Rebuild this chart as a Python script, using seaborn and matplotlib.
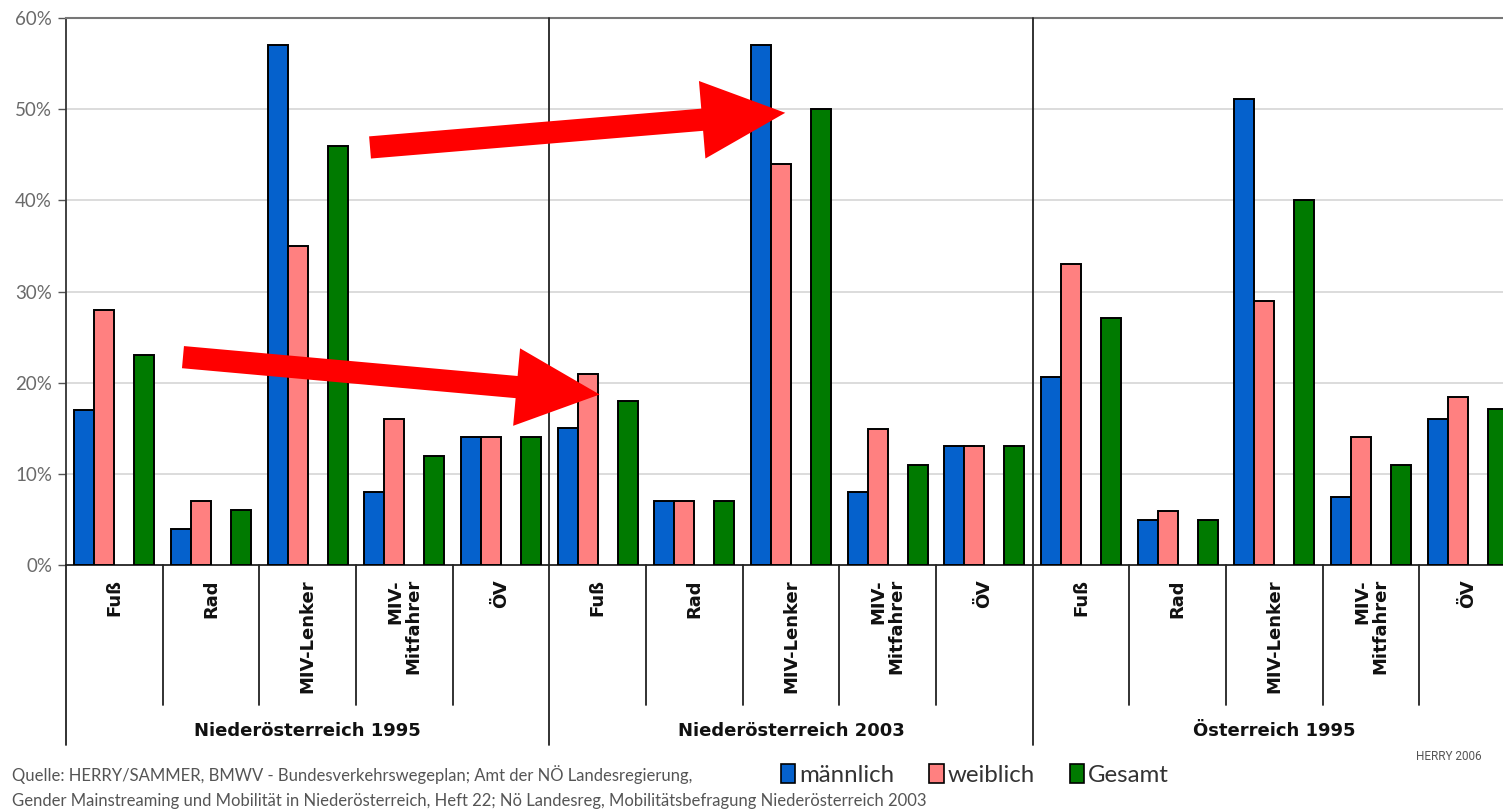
import numpy as np
import pandas as pd
import matplotlib
matplotlib.use("Agg")
import matplotlib.pyplot as plt
import matplotlib.transforms as mtrans
from matplotlib.patches import Patch, FancyArrowPatch
import seaborn as sns

# Daten (Anteil der Wege in %)
regionen = ["Niederösterreich 1995", "Niederösterreich 2003", "Österreich 1995"]
verkehrsmittel = ["Fuß", "Rad", "MIV-Lenker", "MIV-\nMitfahrer", "ÖV"]
maennlich = [17, 4, 57, 8, 14,   15, 7, 57, 8, 13,   20.6, 4.9, 51.1, 7.5, 16]
weiblich = [28, 7, 35, 16, 14,   21, 7, 44, 14.9, 13,   33, 5.9, 29, 14, 18.4]
gesamt = [23, 6, 46, 12, 14,   18, 7, 50, 11, 13,   27.1, 4.9, 40, 11, 17.1]
yticks = [0, 10, 20, 30, 40, 50, 60]

farben = {"männlich": "#0561CC", "weiblich": "#FF8080", " ": "white", "Gesamt": "#007A00"}
hue_order = ["männlich", "weiblich", " ", "Gesamt"]

slots = [f"{r}|{v}" for r in regionen for v in verkehrsmittel]
df = pd.DataFrame({
    "slot": slots * 3,
    "geschlecht": ["männlich"] * 15 + ["weiblich"] * 15 + ["Gesamt"] * 15,
    "anteil": maennlich + weiblich + gesamt,
})

sns.set_style("white")
plt.rcParams["font.family"] = ["DejaVu Sans"]

fig = plt.figure(figsize=(15.03, 8.11), dpi=100)
ax = fig.add_axes([66 / 1503, 1 - 565 / 811, 1 - 66 / 1503, (565 - 18) / 811])

sns.barplot(data=df, x="slot", y="anteil", hue="geschlecht", order=slots,
            hue_order=hue_order, palette=farben, width=0.83, errorbar=None,
            saturation=1, edgecolor="black", linewidth=1.4, legend=False,
            ax=ax, zorder=3)

ax.set_xlim(-0.5, -0.5 + (1503 - 66) / 96.67)
ax.set_ylim(0, 60)
ax.set_yticks(yticks)
ax.set_yticklabels([f"{t}%" for t in yticks], color="#6a6a6a",
                   fontsize=13.5, family="Lato")
ax.set_xticks([])
ax.set_xlabel("")
ax.set_ylabel("")
ax.tick_params(axis="y", length=6, width=1, color="#555555", pad=4, left=True)
for t in yticks[1:-1]:
    ax.axhline(t, color="#d6d6d6", lw=1.2, zorder=1)

ax.spines["right"].set_visible(False)
ax.spines["top"].set_color("#777777")
ax.spines["top"].set_linewidth(1.5)
ax.spines["left"].set_color("#333333")
ax.spines["left"].set_linewidth(1.3)
ax.spines["bottom"].set_color("#222222")
ax.spines["bottom"].set_linewidth(1.3)

# Trennlinien unter der Achse
trans = mtrans.blended_transform_factory(ax.transData, ax.transAxes)
h = 565 - 18
for k in range(len(slots) + 1):
    x = k - 0.5
    if k % 5 == 0:
        y0 = 1.0 if k > 0 else 0.0
        ax.plot([x, x], [y0, -(745 - 565) / h], color="#222222", lw=1.3,
                transform=trans, clip_on=False, zorder=4)
    else:
        ax.plot([x, x], [0, -(705 - 565) / h], color="#222222", lw=1.3,
                transform=trans, clip_on=False, zorder=4)

for i, s in enumerate(slots):
    ax.text(i, -(579 - 565) / h, s.split("|")[1], rotation=90, ha="center",
            va="top", multialignment="right", fontsize=13,
            fontweight="bold", color="#111111", transform=trans,
            linespacing=1.0)

for g, r in enumerate(regionen):
    ax.text(g * 5 + 2, -(731 - 565) / h, r, ha="center", va="center",
            fontsize=13, fontweight="bold", color="#111111", transform=trans)

# rote Pfeile
for tail, tip in [((2.645, 45.8), (6.94, 49.6)), ((0.71, 22.8), (5.02, 18.7))]:
    arr = FancyArrowPatch(tail, tip, arrowstyle="simple,head_length=60,head_width=56,tail_width=16",
                          mutation_scale=1, color="#FF0000", lw=0,
                          shrinkA=0, shrinkB=0, zorder=6)
    ax.add_patch(arr)

# Legende
handles = [Patch(facecolor=farben[k], edgecolor="black", linewidth=1.2)
           for k in ["männlich", "weiblich", "Gesamt"]]
fig.legend(handles, ["männlich", "weiblich", "Gesamt"], loc="center left",
           bbox_to_anchor=(781 / 1503, 1 - 775 / 811), ncol=3, frameon=False,
           handlelength=0.6, handleheight=0.85, handletextpad=0.15,
           columnspacing=1.47, prop={"family": "Lato", "size": 17.3},
           labelcolor="#333333", borderaxespad=0, borderpad=0)

fig.text(12 / 1503, 1 - 775 / 811,
         "Quelle: HERRY/SAMMER, BMWV - Bundesverkehrswegeplan; Amt der NÖ Landesregierung,",
         fontsize=12, color="#555555", va="center", ha="left", family="Lato")
fig.text(12 / 1503, 1 - 801 / 811,
         "Gender Mainstreaming und Mobilität in Niederösterreich, Heft 22; Nö Landesreg, Mobilitätsbefragung Niederösterreich 2003",
         fontsize=12, color="#555555", va="center", ha="left", family="Lato")
fig.text(1449 / 1503, 1 - 757 / 811, "HERRY 2006", fontsize=8.5, color="#555555",
         ha="center", va="center", family="Roboto")

fig.savefig("out.png", dpi=100)
